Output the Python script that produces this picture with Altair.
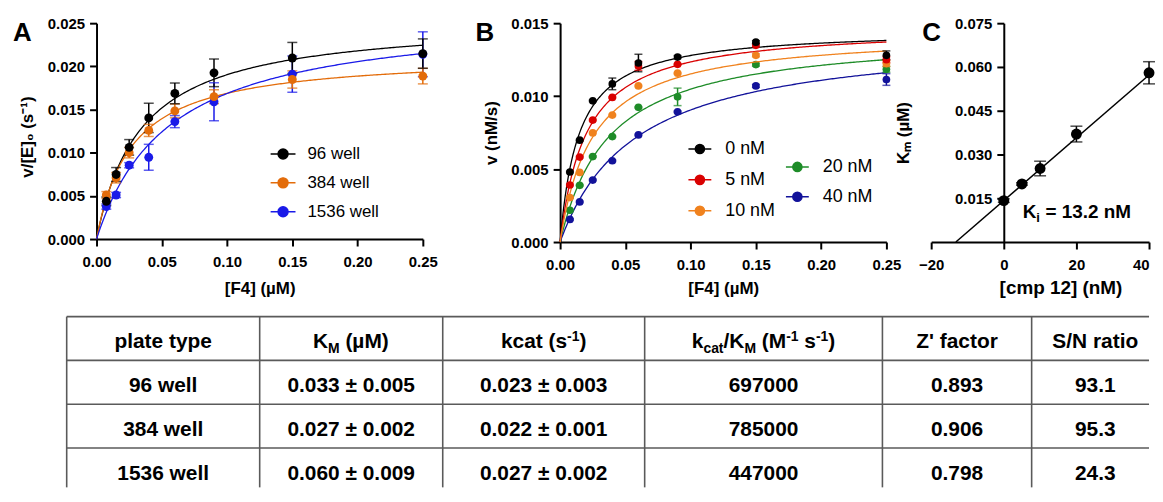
import altair as alt
import pandas as pd

# ---------------- data ----------------
f4_conc = [0.0075, 0.015, 0.025, 0.04, 0.06, 0.09, 0.15, 0.25]

# Panel A
plate_names = ["96 well", "384 well", "1536 well"]
plate_colors = ["#000000", "#e36c0a", "#1a1ae8"]
rate_96 = [0.00437, 0.00748, 0.01062, 0.01403, 0.01687, 0.01925, 0.02097, 0.02148]
err_96 = [0.0005, 0.0008, 0.0009, 0.0017, 0.0012, 0.0016, 0.0018, 0.0017]
rate_384 = [0.0051, 0.0071, 0.0100, 0.01258, 0.01484, 0.01649, 0.01848, 0.01887]
err_384 = [0.0004, 0.0006, 0.0006, 0.0007, 0.0008, 0.0008, 0.0010, 0.0009]
rate_1536 = [0.00376, 0.0051, 0.00855, 0.00947, 0.0136, 0.0159, 0.0191, 0.0214]
err_1536 = [0.0003, 0.0003, 0.0003, 0.0015, 0.0007, 0.0022, 0.0021, 0.0026]
fit_plate_vmax = [0.0255, 0.0214, 0.0263]
fit_plate_km = [0.034, 0.0268, 0.056]

# Panel B
inhib_names = ["0 nM", "5 nM", "10 nM", "20 nM", "40 nM"]
inhib_colors = ["#000000", "#d90000", "#f0821e", "#1e8c28", "#12129a"]
v_0nM = [0.00480, 0.00698, 0.00968, 0.01084, 0.01227, 0.01268, 0.0137, 0.0128]
v_5nM = [0.00391, 0.00582, 0.00836, 0.00991, 0.01207, 0.01218, 0.01348, 0.0125]
v_10nM = [0.00305, 0.00477, 0.00748, 0.0087, 0.0107, 0.01157, 0.0128, 0.01223]
v_20nM = [0.00218, 0.00389, 0.00586, 0.00723, 0.00923, 0.00995, 0.01216, 0.01184]
v_40nM = [0.00155, 0.00275, 0.00425, 0.00557, 0.00734, 0.00893, 0.0107, 0.01114]
e_0nM = [0.00005, 0.00005, 0.00005, 0.0004, 0.0006, 0.0001, 0.0001, 0.0003]
e_5nM = [0.00005, 0.00005, 0.00005, 0.00005, 0.0003, 0.00005, 0.0001, 0.0002]
e_10nM = [0.00005, 0.00005, 0.00005, 0.00005, 0.00005, 0.00005, 0.0001, 0.0002]
e_20nM = [0.00005, 0.00005, 0.00005, 0.00005, 0.00005, 0.0006, 0.0001, 0.0002]
e_40nM = [0.00005, 0.00005, 0.00005, 0.00005, 0.00005, 0.00005, 0.0001, 0.0004]
fit_inhib_vmax = [0.0146, 0.0148, 0.0144, 0.01435, 0.0143]
fit_inhib_km = [0.0142, 0.0199, 0.025, 0.037, 0.058]

# Panel C
cmp12_conc = [0, 5, 10, 20, 40]
km_apparent = [0.0142, 0.0199, 0.0252, 0.0370, 0.0580]
km_apparent_err = [0.0006, 0.0004, 0.0025, 0.0027, 0.0038]
km_zero = 0.0142
ki_value = 13.2

# Table
plate_types = ["96 well", "384 well", "1536 well"]
km_col = ["0.033 \u00b1 0.005", "0.027 \u00b1 0.002", "0.060 \u00b1 0.009"]
kcat_col = ["0.023 \u00b1 0.003", "0.022 \u00b1 0.001", "0.027 \u00b1 0.002"]
kcat_km_col = ["697000", "785000", "447000"]
zfactor_col = ["0.893", "0.906", "0.798"]
sn_col = ["93.1", "95.3", "24.3"]
header_segments = [
    [("plate type", "n")],
    [("K", "n"), ("M", "sub"), (" (\u00b5M)", "n")],
    [("kcat (s", "n"), ("-1", "sup"), (")", "n")],
    [("k", "n"), ("cat", "sub"), ("/K", "n"), ("M", "sub"), (" (M", "n"),
     ("-1", "sup"), (" s", "n"), ("-1", "sup"), (")", "n")],
    [("Z' factor", "n")],
    [("S/N ratio", "n")],
]

# ---------------- style / layout ----------------
FONT = "Liberation Sans"
SYMBOL_PATH = "M-1,0L1,0M0.4,0A0.4,0.4,0,1,1,-0.4,0A0.4,0.4,0,1,1,0.4,0Z"

A_W, A_H = 328, 217          # plot area of panel A
A_VIEW_W = A_W + 93          # extra room so the panels sit at their gaps
B_W, B_H = 328, 220
C_W, C_H = 219, 220
GAP = 45

# table, in pixels relative to panel A's plot origin
TABLE_TOP = 295
ROW_H = 44
ROWS_SHOWN = 3.9
TABLE_RIGHT = 1058
col_edges = [-30, 164, 348, 551, 790, 940, 1068]
T_MAIN, T_SMALL = 21, 14
ARIAL_BOLD = {" ": 278, "'": 238, "(": 333, ")": 333, "-": 333, ".": 278,
              "/": 278, "=": 584, "K": 722, "M": 833, "N": 722, "S": 667, "Z": 611,
              "a": 556, "c": 556, "e": 556, "f": 333, "i": 278, "k": 556, "l": 278,
              "n": 611, "o": 611, "p": 611, "r": 389, "s": 556, "t": 333, "w": 778,
              "y": 556, "\u00b5": 611, "\u00b1": 549}


def text_w(s, size):
    return sum(ARIAL_BOLD.get(ch, 556) for ch in s) * size / 1000.0


def letter(t, dx):
    return alt.TitleParams(t, anchor="start", frame="group", orient="top", font=FONT,
                           fontSize=26, fontWeight="bold", color="black",
                           baseline="alphabetic", offset=0, dx=dx, dy=51)


def series_df(names, ys, errs):
    rows = []
    for name, yv, ev in zip(names, ys, errs):
        for x, y, e in zip(f4_conc, yv, ev):
            rows.append({"series": name, "x": x, "y": y, "lo": y - e, "hi": y + e})
    return pd.DataFrame(rows)


def mm_layers(pts, fit, domain, colors, xs, ys, xa, ya, legend, pt_size, cap):
    sc = alt.Scale(domain=domain, range=colors)
    fill = alt.Fill("series:N", scale=sc, legend=legend)
    stroke = alt.Stroke("series:N", scale=sc, legend=legend)

    def X(f):
        return alt.X(f + ":Q", scale=xs, axis=xa)

    def Y(f):
        return alt.Y(f + ":Q", scale=ys, axis=ya)

    curve = (alt.Chart(fit)
             .transform_calculate(x="sequence(0, 0.25001, 0.00125)")
             .transform_flatten(["x"])
             .transform_calculate(y="datum.V * datum.x / (datum.K + datum.x)")
             .mark_line(strokeWidth=1.3)
             .encode(x=X("x"), y=Y("y"), stroke=stroke))
    bars = alt.Chart(pts).mark_rule(strokeWidth=1.5).encode(
        x=X("x"), y=Y("lo"), y2="hi", stroke=stroke)
    caps = (alt.Chart(pts).transform_fold(["lo", "hi"], as_=["end", "cap"])
            .mark_tick(orient="horizontal", size=cap, thickness=1.5)
            .encode(x=X("x"), y=Y("cap"), fill=fill))
    dots = alt.Chart(pts).mark_circle(size=pt_size, opacity=1).encode(
        x=X("x"), y=Y("y"), fill=fill)
    return alt.layer(curve, bars, caps, dots)


def legend(x, y, sym, font_size, row_pad, lab_off):
    return alt.Legend(orient="none", legendX=x, legendY=y, title=None, symbolType=SYMBOL_PATH,
                      symbolSize=sym, symbolStrokeWidth=1.5, symbolOpacity=1, labelFont=FONT,
                      labelFontSize=font_size, labelFontWeight="normal", labelColor="black",
                      rowPadding=row_pad, labelOffset=lab_off, padding=0, symbolOffset=0)


f4_ticks = [0, 0.05, 0.1, 0.15, 0.2, 0.25]

# ---------------- Panel A ----------------
order_a = [2, 1, 0]
pts_a = series_df([plate_names[i] for i in order_a],
                  [[rate_96, rate_384, rate_1536][i] for i in order_a],
                  [[err_96, err_384, err_1536][i] for i in order_a])
fit_a = pd.DataFrame({"series": plate_names, "V": fit_plate_vmax, "K": fit_plate_km})
xa_scale = alt.Scale(domain=[0, 0.25], range=[0, A_W], nice=False, zero=False)
xa_axis = alt.Axis(values=f4_ticks, format=".2f", title="[F4] (\u00b5M)",
                   titleX=A_W / 2, titleY=55, titleBaseline="alphabetic")
ya_axis = alt.Axis(values=[0, 0.005, 0.01, 0.015, 0.02, 0.025], format=".3f",
                   title="v/[E]\u2080 (s\u207b\u00b9)", titleX=-69, titleY=114,
                   titleBaseline="middle")
a_plot = mm_layers(pts_a, fit_a, plate_names, plate_colors, xa_scale,
                   alt.Scale(domain=[0, 0.025], nice=False), xa_axis, ya_axis,
                   legend(174, 118, 625, 17, 7, 11), 80, 10)

# ---------------- Table (drawn in panel A's frame) ----------------
centers = [(col_edges[i] + col_edges[i + 1]) / 2 for i in range(6)]
body_cols = [plate_types, km_col, kcat_col, kcat_km_col, zfactor_col, sn_col]
BASE = 0.727
cells = []
for c, col in enumerate(body_cols):
    for r, txt in enumerate(col):
        cells.append({"x": centers[c], "y": r + 1 + BASE, "t": txt, "kind": "b"})
for c, segs in enumerate(header_segments):
    sizes = [T_MAIN if k == "n" else T_SMALL for _, k in segs]
    total = sum(text_w(s, z) for (s, _), z in zip(segs, sizes))
    pos = centers[c] - total / 2
    for (s, k), z in zip(segs, sizes):
        shown = s.lstrip(" ")
        lead = text_w(s[: len(s) - len(shown)], z)   # leading blanks become an offset
        cells.append({"x": pos + lead, "y": BASE, "t": shown, "kind": k})
        pos += text_w(s, z)
cells_df = pd.DataFrame(cells)

tx_scale = alt.Scale(domain=[0, TABLE_RIGHT], range=[0, TABLE_RIGHT], nice=False, zero=False)
ty_scale = alt.Scale(domain=[0, ROWS_SHOWN],
                     range=[TABLE_TOP, TABLE_TOP + ROW_H * ROWS_SHOWN], nice=False, zero=False)
TX = alt.X("x:Q", scale=tx_scale, axis=None)
TY = alt.Y("y:Q", scale=ty_scale, axis=None)
hl = pd.DataFrame({"y": [0, 1, 2, 3], "x": [col_edges[0]] * 4, "x2": [TABLE_RIGHT] * 4})
vl = pd.DataFrame({"x": col_edges[:-1], "y": [0] * 6, "y2": [ROWS_SHOWN] * 6})
grid_color = "#5a5a5a"
t_h = alt.Chart(hl).mark_rule(color=grid_color, strokeWidth=1.6).encode(x=TX, x2="x2", y=TY)
t_v = alt.Chart(vl).mark_rule(color=grid_color, strokeWidth=1.6).encode(x=TX, y=TY, y2="y2")
t_body = (alt.Chart(cells_df).transform_filter(alt.datum.kind == "b")
          .mark_text(align="center", baseline="alphabetic", font=FONT, fontSize=T_MAIN,
                     fontWeight="bold", color="black")
          .encode(x=TX, y=TY, text="t:N"))


def head_layer(kind, size, dy):
    return (alt.Chart(cells_df).transform_filter(alt.datum.kind == kind)
            .mark_text(align="left", baseline="alphabetic", font=FONT, fontSize=size,
                       fontWeight="bold", color="black", dy=dy)
            .encode(x=TX, y=TY, text="t:N"))


table = alt.layer(t_h, t_v, t_body, head_layer("n", T_MAIN, 0),
                  head_layer("sub", T_SMALL, 5), head_layer("sup", T_SMALL, -8))

panel_a = (alt.layer(a_plot, table)
           .resolve_scale(x="independent", y="independent")
           .properties(width=A_VIEW_W, height=A_H, title=letter("A", -84)))

# ---------------- Panel B ----------------
xb_scale = alt.Scale(domain=[0, 0.25], nice=False, zero=False)
yb_scale = alt.Scale(domain=[0, 0.015], nice=False)
yb_axis = alt.Axis(values=[0, 0.005, 0.01, 0.015], format=".3f", title="v (nM/s)",
                   titleX=-69, titleBaseline="middle")
xb_axis = alt.Axis(values=f4_ticks, format=".2f", title="[F4] (\u00b5M)",
                   titleY=52, titleBaseline="alphabetic")
b_v = [v_0nM, v_5nM, v_10nM, v_20nM, v_40nM]
b_e = [e_0nM, e_5nM, e_10nM, e_20nM, e_40nM]
g1, g2 = [2, 1, 0], [4, 3]
pts_b1 = series_df([inhib_names[i] for i in g1], [b_v[i] for i in g1], [b_e[i] for i in g1])
pts_b2 = series_df([inhib_names[i] for i in g2], [b_v[i] for i in g2], [b_e[i] for i in g2])
fit_b1 = pd.DataFrame({"series": inhib_names[:3], "V": fit_inhib_vmax[:3], "K": fit_inhib_km[:3]})
fit_b2 = pd.DataFrame({"series": inhib_names[3:], "V": fit_inhib_vmax[3:], "K": fit_inhib_km[3:]})
layer_b2 = mm_layers(pts_b2, fit_b2, inhib_names[3:], inhib_colors[3:], xb_scale, yb_scale,
                     xb_axis, yb_axis, legend(226, 132, 529, 18, 8, 13), 60, 8)
layer_b1 = mm_layers(pts_b1, fit_b1, inhib_names[:3], inhib_colors[:3], xb_scale, yb_scale,
                     xb_axis, yb_axis, legend(128, 114, 529, 18, 9, 13), 60, 8)
panel_b = (alt.layer(layer_b2, layer_b1)
           .resolve_scale(fill="independent", stroke="independent")
           .properties(width=B_W, height=B_H, title=letter("B", -85)))

# ---------------- Panel C ----------------
pts_c = pd.DataFrame({"x": cmp12_conc, "y": km_apparent,
                      "lo": [a - b for a, b in zip(km_apparent, km_apparent_err)],
                      "hi": [a + b for a, b in zip(km_apparent, km_apparent_err)]})
fit_c = pd.DataFrame({"Km0": [km_zero], "Ki": [ki_value], "xmax": [max(cmp12_conc)]})
ki_label = pd.DataFrame({"x": [5.2], "y": [0.0084], "k": ["K"], "i": ["i"],
                         "rest": ["= %s nM" % ki_value]})
xc_scale = alt.Scale(domain=[-20, 40], nice=False, zero=False)
yc_scale = alt.Scale(domain=[0, 0.075], nice=False)
xc_axis = alt.Axis(values=[-20, 0, 20, 40], format="d", title="[cmp 12] (nM)",
                   titleX=130, titleY=52, titleBaseline="alphabetic", titleFontSize=19,
                   labelAlign={"condition": {"test": "datum.value == 40", "value": "right"},
                               "value": "center"})
yc_axis = alt.Axis(values=[0.015, 0.03, 0.045, 0.06, 0.075], format=".3f",
                   title="K\u2098 (\u00b5M)", offset=-73, titleX=-101, titleY=110,
                   titleBaseline="middle")


def XC(f):
    return alt.X(f + ":Q", scale=xc_scale, axis=xc_axis)


def YC(f):
    return alt.Y(f + ":Q", scale=yc_scale, axis=yc_axis)


line_c = (alt.Chart(fit_c)
          .transform_calculate(x="[-datum.Ki, datum.xmax]")
          .transform_flatten(["x"])
          .transform_calculate(y="datum.Km0 * (1 + datum.x / datum.Ki)")
          .mark_line(color="black", strokeWidth=1.5)
          .encode(x=XC("x"), y=YC("y")))
bars_c = alt.Chart(pts_c).mark_rule(color="black", strokeWidth=1.5).encode(
    x=XC("x"), y=YC("lo"), y2="hi")
caps_c = (alt.Chart(pts_c).transform_fold(["lo", "hi"], as_=["end", "cap"])
          .mark_tick(orient="horizontal", size=12, thickness=1.5, color="black")
          .encode(x=XC("x"), y=YC("cap")))
dots_c = alt.Chart(pts_c).mark_circle(size=120, opacity=1, color="black").encode(
    x=XC("x"), y=YC("y"))
k_font = 19
lab_k = alt.Chart(ki_label).mark_text(align="left", baseline="alphabetic", font=FONT,
                                      fontSize=k_font, fontWeight="bold", color="black"
                                      ).encode(x=XC("x"), y=YC("y"), text="k:N")
lab_i = alt.Chart(ki_label).mark_text(align="left", baseline="alphabetic", font=FONT,
                                      fontSize=13, fontWeight="bold", color="black",
                                      dx=text_w("K", k_font), dy=5
                                      ).encode(x=XC("x"), y=YC("y"), text="i:N")
lab_rest = alt.Chart(ki_label).mark_text(align="left", baseline="alphabetic", font=FONT,
                                         fontSize=k_font, fontWeight="bold", color="black",
                                         dx=text_w("K", k_font) + text_w("i ", 13) + 2
                                         ).encode(x=XC("x"), y=YC("y"), text="rest:N")
panel_c = alt.layer(line_c, bars_c, caps_c, dots_c, lab_k, lab_i, lab_rest).properties(
    width=C_W, height=C_H, title=letter("C", -9))

chart = (alt.hconcat(panel_a, panel_b, panel_c, spacing=GAP, bounds="flush")
         .properties(padding={"left": 5, "top": 7, "right": 0, "bottom": 0})
         .configure_view(stroke=None)
         .configure_axis(domainColor="black", domainWidth=2, tickColor="black", tickWidth=2,
                         tickSize=7, labelFont=FONT, labelFontSize=15, labelFontWeight="bold",
                         labelColor="black", labelPadding=5, titleFont=FONT, titleFontSize=17,
                         titleFontWeight="bold", titleColor="black", grid=False)
         .configure_axisX(labelPadding=9, labelFlush=False))

chart.save("out.html", embed_options={"renderer": "svg", "actions": False})
